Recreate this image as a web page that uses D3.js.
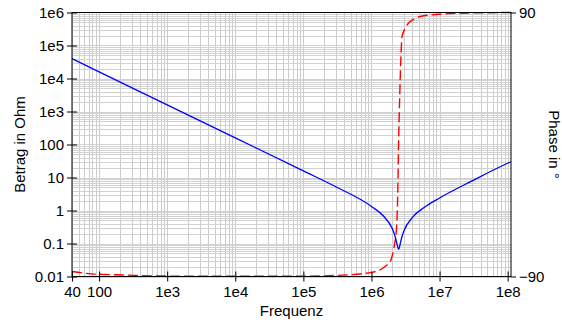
<!DOCTYPE html>
<html>
<head>
	<meta charset="utf-8">
	<script src="https://d3js.org/d3.v7.min.js"></script>
	<style>
		body { margin: 0; background: #fff; }
		text { font-family: "Liberation Sans", Arial, sans-serif; font-size: 15px; fill: #000; }
	</style>
</head>
<body>
	<script type="text/javascript">
		"use strict";

		/*
		Werte
		*/
		var freqBetrag = [40, 100, 1e3, 1e4, 1e5, 3e5, 1e6, 1.5e6, 2e6, 2.2e6, 2.35e6, 2.45e6, 2.5e6, 2.55e6, 2.65e6, 2.8e6, 3e6, 4e6, 6e6, 1e7, 3e7, 1e8, 1.12e8];
		var betrag = [3.98e4, 1.59e4, 1590, 159, 15.9, 5.23, 1.33, 0.68, 0.295, 0.177, 0.104, 0.074, 0.068, 0.072, 0.1, 0.16, 0.243, 0.62, 1.26, 2.4, 7.9, 27, 30];

		var freqPhase = [40, 77, 120, 235, 460, 1e3, 1e4, 1e5, 3e5, 7.5e5, 1e6, 1.35e6, 1.6e6, 1.89e6, 2.11e6, 2.22e6, 2.31e6, 2.42e6, 2.46e6, 2.5e6, 2.55e6, 2.59e6, 2.7e6, 2.81e6, 3.1e6, 3.51e6, 4.2e6, 5.2e6, 1e7, 2e7, 1.12e8];
		var phase = [-86.6, -88.2, -88.6, -89.0, -89.5, -89.7, -89.85, -89.8, -89.3, -88.0, -87.2, -85.4, -83.0, -79.8, -71.8, -66, -60, -38, -20, 0, 18, 30, 58, 73.6, 79, 82.8, 85.5, 87.3, 88.8, 89.5, 90];

		var xTickValues = [40, 100, 1e3, 1e4, 1e5, 1e6, 1e7, 1e8];
		var xTickLabels = ["40", "100", "1e3", "1e4", "1e5", "1e6", "1e7", "1e8"];
		var yTickValues = [0.01, 0.1, 1, 10, 100, 1e3, 1e4, 1e5, 1e6];
		var yTickLabels = ["0.01", "0.1", "1", "10", "100", "1e3", "1e4", "1e5", "1e6"];
		var phaseTicks = [-90, 90];

		function draw() {
			var width = 562,
				height = 322,
				pLeft = 72,
				pRight = 511,
				pTop = 12.5,
				pBottom = 276.5;

			var svg = d3.select("body")
				.append("svg")
				.attr("width", width)
				.attr("height", height);

			var x = d3.scaleLog().domain([40, 1.12e8]).range([pLeft, pRight]);
			var y = d3.scaleLog().domain([0.01, 1e6]).range([pBottom, pTop]);
			var yPhase = d3.scaleLinear().domain([-90, 90]).range([pBottom, pTop]);

			/*
			Gitter: 1..9 je Dekade
			*/
			var xGrid = [], yGrid = [];
			for (var e = 1; e <= 8; e++) {
				for (var m = 1; m <= 9; m++) {
					var v = m * Math.pow(10, e);
					if (v >= 40 && v <= 1.12e8) xGrid.push(v);
				}
			}
			for (var e2 = -2; e2 <= 5; e2++) {
				for (var m2 = 1; m2 <= 9; m2++) {
					yGrid.push(m2 * Math.pow(10, e2));
				}
			}

			var grid = svg.append("g").attr("class", "grid");
			grid.selectAll("line.vx")
				.data(xGrid)
				.enter()
				.append("line")
				.attr("x1", function (d) { return Math.round(x(d)) + 0.5; })
				.attr("x2", function (d) { return Math.round(x(d)) + 0.5; })
				.attr("y1", pTop)
				.attr("y2", pBottom)
				.attr("stroke", "#cccccc")
				.attr("stroke-width", 1);
			grid.selectAll("line.hy")
				.data(yGrid)
				.enter()
				.append("line")
				.attr("x1", pLeft)
				.attr("x2", pRight)
				.attr("y1", function (d) { return Math.round(y(d)) + 0.5; })
				.attr("y2", function (d) { return Math.round(y(d)) + 0.5; })
				.attr("stroke", "#d2d2d2")
				.attr("stroke-width", 1);

			/*
			Kurven
			*/
			var lineBetrag = d3.line()
				.x(function (d, i) { return x(freqBetrag[i]); })
				.y(function (d) { return y(d); })
				.curve(d3.curveMonotoneX);

			var linePhase = d3.line()
				.x(function (d, i) { return x(freqPhase[i]); })
				.y(function (d) { return yPhase(d); })
				.curve(d3.curveMonotoneX);

			svg.append("path")
				.datum(phase)
				.attr("d", linePhase)
				.attr("fill", "none")
				.attr("stroke", "#ff0000")
				.attr("stroke-width", 1.4)
				.attr("stroke-dasharray", "10,4");

			svg.append("path")
				.datum(betrag)
				.attr("d", lineBetrag)
				.attr("fill", "none")
				.attr("stroke", "#0000ff")
				.attr("stroke-width", 1.3);

			/*
			Rahmen und Achsen
			*/
			svg.append("rect")
				.attr("x", pLeft)
				.attr("y", pTop)
				.attr("width", pRight - pLeft)
				.attr("height", pBottom - pTop)
				.attr("fill", "none")
				.attr("stroke", "#000")
				.attr("stroke-width", 1);

			var xAxis = d3.axisBottom(x)
				.tickValues(xTickValues)
				.tickFormat(function (d, i) { return xTickLabels[i]; })
				.tickSizeInner(5)
				.tickSizeOuter(0)
				.tickPadding(5);
			var gx = svg.append("g")
				.attr("transform", "translate(0," + pBottom + ")")
				.call(xAxis);
			gx.selectAll(".tick line").attr("y1", -5);

			var yAxis = d3.axisLeft(y)
				.tickValues(yTickValues)
				.tickFormat(function (d, i) { return yTickLabels[i]; })
				.tickSizeInner(5)
				.tickSizeOuter(0)
				.tickPadding(3);
			var gy = svg.append("g")
				.attr("transform", "translate(" + pLeft + ",0)")
				.call(yAxis);
			gy.selectAll(".tick line").attr("x1", 5);

			var yAxisR = d3.axisRight(yPhase)
				.tickValues(phaseTicks)
				.tickSizeInner(5)
				.tickSizeOuter(0)
				.tickPadding(3);
			var gr = svg.append("g")
				.attr("transform", "translate(" + pRight + ",0)")
				.call(yAxisR);

			[gx, gy, gr].forEach(function (g) {
				g.select(".domain").remove();
				g.selectAll("text").attr("font-size", 15).attr("font-family", "'Liberation Sans', Arial, sans-serif").attr("fill", "#000");
				g.selectAll(".tick line").attr("stroke", "#000");
			});

			/*
			Achsentitel
			*/
			svg.append("text")
				.attr("x", (pLeft + pRight) / 2)
				.attr("y", 316)
				.attr("text-anchor", "middle")
				.text("Frequenz");

			svg.append("text")
				.attr("transform", "translate(25," + ((pTop + pBottom) / 2) + ") rotate(-90)")
				.attr("text-anchor", "middle")
				.text("Betrag in Ohm");

			svg.append("text")
				.attr("transform", "translate(549," + ((pTop + pBottom) / 2) + ") rotate(90)")
				.attr("text-anchor", "middle")
				.text("Phase in °");
		}

		draw();
	</script>
</body>
</html>
